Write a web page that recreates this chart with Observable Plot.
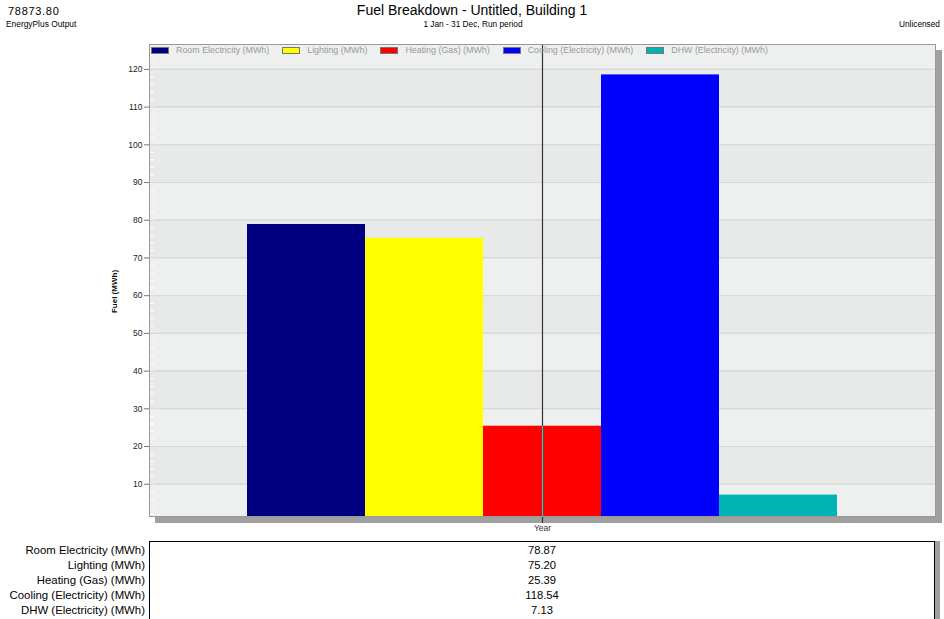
<!DOCTYPE html>
<html>
<head>
<meta charset="utf-8">
<script src="https://cdn.jsdelivr.net/npm/d3@7"></script>
<script src="https://cdn.jsdelivr.net/npm/@observablehq/plot@0.6"></script>
<style>
  html, body { margin: 0; padding: 0; background: #fff; }
  body { font-family: "Liberation Sans", Arial, sans-serif; color: #000; }
  #wrap { position: relative; width: 944px; height: 619px; overflow: hidden; }
  #chart { position: absolute; left: 0; top: 0; }
  .abs { position: absolute; white-space: nowrap; }
  #legend { position: absolute; left: 151px; top: 45px; display: flex; align-items: center; font-size: 8.9px; color: #9a9a9a; }
  #legend .item { display: flex; align-items: center; margin-right: 13px; }
  #legend .sw { width: 18px; height: 7px; margin-right: 7px; border: 1px solid #777; box-sizing: border-box; }
  #table { position: absolute; left: 149px; top: 541px; width: 786px; height: 90px; border: 1px solid #000; box-sizing: border-box; box-shadow: 5px 0 0 #a0a0a0; background: #fff; }
  .rowlab { position: absolute; right: 799px; font-size: 11.4px; text-align: right; white-space: nowrap; }
  .rowval { position: absolute; left: 542px; transform: translateX(-50%); font-size: 11.2px; white-space: nowrap; }
</style>
</head>
<body>
<div id="wrap">
  <div id="chart"></div>
  <div class="abs" style="left:8px; top:5px; font-size:11px; letter-spacing:0.7px;">78873.80</div>
  <div class="abs" style="left:6px; top:19px; font-size:8.4px;">EnergyPlus Output</div>
  <div class="abs" style="left:472px; top:2px; transform:translateX(-50%); font-size:14px;">Fuel Breakdown - Untitled, Building 1</div>
  <div class="abs" style="left:473px; top:19px; transform:translateX(-50%); font-size:8.3px;">1 Jan - 31 Dec, Run period</div>
  <div class="abs" style="right:4px; top:19px; font-size:8.3px;">Unlicensed</div>
  <div id="legend"></div>
  <div id="table"></div>
  <div id="rows"></div>
</div>
<script>
const categories = [
  "Room Electricity (MWh)",
  "Lighting (MWh)",
  "Heating (Gas) (MWh)",
  "Cooling (Electricity) (MWh)",
  "DHW (Electricity) (MWh)"
];
const values = [78.87, 75.20, 25.39, 118.54, 7.13];
const colors = ["#000080", "#ffff00", "#ff0000", "#0000ff", "#00b4b4"];
const yTicks = [10, 20, 30, 40, 50, 60, 70, 80, 90, 100, 110, 120];
const xLabel = "Year";
const yLabel = "Fuel (MWh)";

const yDomain = [1.45, 126.6];
const data = categories.map((c, i) => ({name: c, value: values[i], color: colors[i]}));
const minorTicks = d3.range(2, 126, 2).filter(v => v % 10 !== 0);
const bandEdges = [0, ...yTicks, 130];
const bands = bandEdges.slice(0, -1).map((v, i) => ({y1: v, y2: bandEdges[i + 1], fill: i % 2 === 0 ? "#eef0ef" : "#e8eae9"}));
const midCat = categories[Math.floor(categories.length / 2)];

const plot = Plot.plot({
  width: 944,
  height: 540,
  marginTop: 44,
  marginRight: 9,
  marginBottom: 24,
  marginLeft: 149,
  style: {fontFamily: "'Liberation Sans', Arial, sans-serif", background: "transparent"},
  x: {type: "band", domain: categories, paddingInner: 0, paddingOuter: 0.82, axis: null},
  y: {domain: yDomain, axis: null},
  marks: [
    Plot.frame({fill: "#a0a0a0", stroke: "#a0a0a0", dx: 6, dy: 6}),
    Plot.rect(bands, {y1: "y1", y2: "y2", fill: "fill", clip: true}),
    Plot.ruleY(yTicks, {stroke: "#d6d8d7", strokeWidth: 1}),
    Plot.axisY(minorTicks, {anchor: "left", tickSize: -5, stroke: "#ffffff", text: null, label: null}),
    Plot.barY(data, {x: "name", y: "value", fill: "color", clip: true}),
    Plot.ruleX([midCat], {stroke: "#333", strokeWidth: 1.2, insetBottom: -7}),
    Plot.ruleX([data[2]], {x: "name", y1: yDomain[0], y2: "value", stroke: "#00d8d8", strokeWidth: 1.2}),
    Plot.frame({stroke: "#999", strokeWidth: 1}),
    Plot.axisY(yTicks, {anchor: "left", tickSize: 5, tickPadding: 2, fontSize: 8.5, stroke: "#777", fill: "#222", label: null}),
    Plot.text([yLabel], {frameAnchor: "left", textAnchor: "middle", dx: -35, dy: 11, rotate: -90, fontWeight: "bold", fontSize: 8, letterSpacing: 0.3, fill: "#111"}),
    Plot.text([xLabel], {x: () => midCat, frameAnchor: "bottom", dy: 14, fontSize: 8.5, fill: "#333"})
  ]
});
document.getElementById("chart").appendChild(plot);

const legend = document.getElementById("legend");
data.forEach(d => {
  const it = document.createElement("div");
  it.className = "item";
  const sw = document.createElement("div");
  sw.className = "sw";
  sw.style.background = d.color;
  const tx = document.createElement("span");
  tx.textContent = d.name;
  it.appendChild(sw); it.appendChild(tx);
  legend.appendChild(it);
});

const rows = document.getElementById("rows");
data.forEach((d, i) => {
  const top = 544 + i * 15;
  const l = document.createElement("div");
  l.className = "rowlab";
  l.style.top = top + "px";
  l.textContent = d.name;
  const v = document.createElement("div");
  v.className = "rowval";
  v.style.top = top + "px";
  v.textContent = d.value.toFixed(2);
  rows.appendChild(l); rows.appendChild(v);
});
</script>
</body>
</html>
